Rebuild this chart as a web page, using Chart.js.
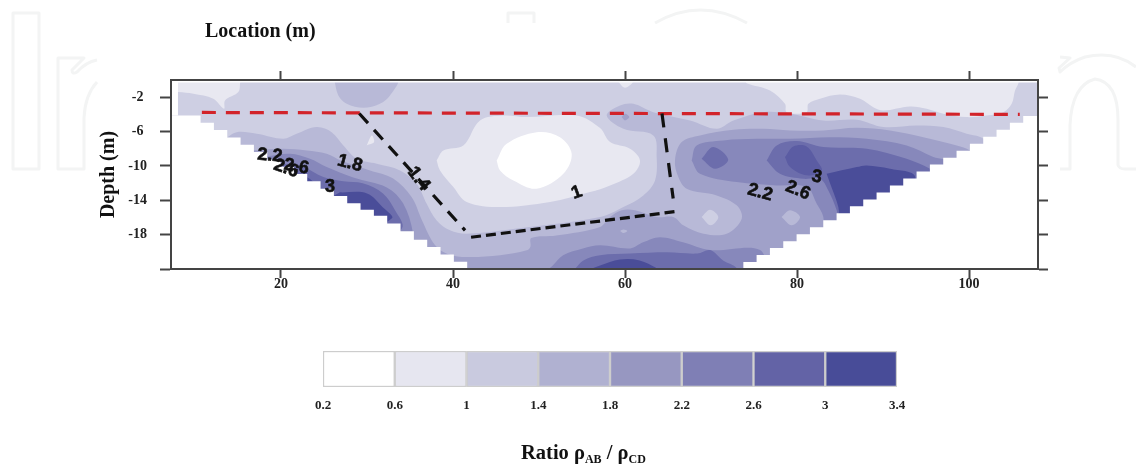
<!DOCTYPE html>
<html><head><meta charset="utf-8">
<style>
html,body{margin:0;padding:0;background:#fff;width:1136px;height:465px;overflow:hidden}
canvas{position:absolute;left:0;filter:blur(0.55px)}
.t{position:absolute;font-family:"Liberation Serif",serif;font-weight:bold;color:#111;white-space:nowrap;filter:blur(0.3px)}
sub{font-size:12px;vertical-align:baseline;position:relative;top:4px}
#wm{position:absolute;left:0;top:0}
</style>
<script src="https://cdn.jsdelivr.net/npm/chart.js@4"></script>
</head><body>
<svg id="wm" width="1136" height="465" fill="none" stroke="#f3f4f4" stroke-width="3" stroke-linejoin="round">
<path d="M13 13H39V169H13Z"/>
<path d="M97 60Q86 62 77 72Q72 75 72 70L84 58H58V169H84V118Q85 95 97 82"/>
<path d="M508 23V13H534V23"/>
<path d="M655 23Q700 -3 747 23"/>
<path d="M1136 67Q1115 50 1085 57Q1070 62 1060 72L1059 68L1070 58L1060 57M1060 169H1070V125Q1072 85 1095 79Q1118 82 1118 120V165Q1119 169 1125 169H1136"/>
</svg>
<canvas id="main" width="1136" height="465" style="top:0"></canvas>
<canvas id="bar" width="1136" height="85" style="top:340px"></canvas>
<div class="t" style="left:205px;top:19px;font-size:20px">Location (m)</div>
<div class="t" style="left:521px;top:441px;font-size:20.5px">Ratio ρ<sub>AB</sub> / ρ<sub>CD</sub></div>
<script>
// tick labels
const xTicks=[20,40,60,80,100];
const yTicks=[-2,-6,-10,-14,-18];
const yCorner=-22;
const levels=[0.2,0.6,1,1.4,1.8,2.2,2.6,3,3.4];
const levelColors=['#ffffff','#e6e6f0','#c9cadf','#b0b1d1','#9797c1','#7f7fb5','#6363a6','#484c98'];
const plotColors=['#ffffff','#e8e8f1','#cecfe3','#b8b9d7','#a0a1c9','#8788bb','#6c6dac','#4a4d99'];
const peakColor='#5b5ca3';

// contour regions, [location, depth]
const domain=[[7,1],[109,1],[109,-23],[7,-23]];
const lightLeft=[[7.5,0],[15.24,0],[15.24,-0.37],[15.04,-1.41],[13.49,-2.38],[13.38,-3.35],[12.13,-2.19],[9.81,-1.61],[8.06,-1.41],[7.5,-1.41]];
const lightRight=[[74,0],[74.15,-0.37],[76.86,-1.22],[78.6,-2.77],[78.8,-3.74],[81.12,-3.74],[81.32,-2.77],[82.67,-2.19],[85,-1.7],[87.33,-2.19],[88.87,-3.16],[90.04,-3.55],[93.14,-3.08],[95.08,-3.35],[97,-3.93],[99.73,-4.32],[102.05,-4.13],[104,-3.74],[104.96,-2.77],[105.35,-1.22],[105.74,-0.37],[105.74,0]];
const lightNotch=[[59.2,-0.2],[60.9,-0.2],[60,-0.9]];
const band14=[[13.49,-6.84],[14.85,-6.07],[17.17,-6.26],[20.27,-6.84],[21.82,-6.26],[24.15,-5.48],[25.89,-6.07],[27.25,-7.62],[28.8,-9.17],[31.13,-9.75],[33.84,-10.52],[35.78,-12.07],[36.94,-14.4],[38.1,-16.34],[39.65,-17.5],[41.59,-17.89],[47.41,-17.3],[57.1,-15.95],[59.81,-14.79],[62.13,-13.43],[63.49,-11.69],[63.68,-8.97],[63.29,-6.45],[59.81,-5.68],[57.87,-4.13],[59.42,-2.96],[60.97,-2.77],[63.29,-3.74],[67.56,-4.71],[70.66,-5.68],[72.6,-4.71],[76.09,-3.74],[79.19,-3.93],[83.06,-4.71],[86.94,-4.63],[90.04,-5.48],[93.91,-5.29],[97.02,-5.48],[99.73,-6.26],[101.67,-6.84],[108,-12],[85,-22],[40,-22],[13.49,-12]];
const circle14=[[26.2,0],[33.5,0],[32.68,-1.8],[31.5,-2.77],[29.58,-3.24],[27.64,-2.77],[26.67,-1.8]];
const centerLight=[[38.1,-9.36],[38.88,-8.2],[41.2,-7.62],[43.14,-4.71],[45.86,-4.13],[48.57,-4.32],[54.38,-4.13],[57.1,-5.6],[58.26,-7.23],[60.58,-8],[61.74,-9.36],[60.97,-10.91],[58.26,-12.27],[55.93,-13.04],[51.28,-14.2],[45.47,-14.79],[41.59,-14.2],[40.04,-12.46],[38.49,-10.52]];
const centerWhite=[[45.08,-9.36],[46.24,-7.42],[49.73,-6.07],[52.44,-6.65],[53.8,-8.59],[52.83,-10.91],[49.73,-12.65],[47.02,-11.69],[45.47,-10.52]];
const lightSpot=[[29.96,-7.62],[30.55,-6.45],[30.82,-7.23]];
const band18=[[16.4,-8.2],[20.27,-8],[22.99,-8.2],[25.31,-8.59],[27,-9.4],[30.35,-10.52],[33,-11.45],[35.2,-13.66],[36.4,-16.34],[37.9,-19.2],[39.5,-20.3],[41.59,-20.6],[45.47,-20.4],[48.57,-19.83],[49,-19.4],[49.1,-18.4],[52,-18.1],[57.1,-17.1],[58.26,-15.95],[59.61,-15.17],[61.16,-15.17],[63.68,-15.95],[65.62,-15.95],[66.78,-16.92],[69.11,-17.89],[71.82,-17.89],[73.57,-16.14],[72.98,-14.59],[70.66,-13.43],[67.17,-12.65],[66.2,-11.3],[65.81,-9.36],[66.59,-7.23],[68.72,-6.45],[72.6,-5.79],[76.09,-5.68],[79.19,-5.87],[83.06,-5.87],[86.94,-5.56],[90.81,-5.87],[94.69,-6.65],[98.57,-7.62],[100.1,-8.2],[105,-12],[85,-22],[40,-22],[16.4,-12]];
const blob10=[[68.91,-15.95],[69.88,-15.1],[70.85,-15.95],[69.96,-16.92]];
const blob14=[[78.2,-15.95],[79.19,-15.17],[80.35,-15.95],[79.38,-16.92]];
const dot14=[[59.42,-17.58],[59.81,-17.4],[60.27,-17.58],[59.81,-17.81]];
const dot18=[[59.61,-4.32],[60,-3.93],[60.5,-4.32],[60,-4.71]];
const left22=[[17.95,-8.97],[21.05,-8.59],[23.37,-9.17],[25.31,-10.14],[28.4,-11.34],[32.3,-12.5],[34.2,-14.36],[35.35,-17.85],[35,-19],[33,-22],[17.95,-12]];
const bottom22=[[50.9,-22.2],[51.6,-21.6],[52.8,-20.4],[55.1,-19.6],[57.1,-19.24],[60.6,-19.6],[62.1,-18.9],[64.07,-18.3],[66.74,-18.9],[69.88,-19.8],[75.7,-19.8],[76,-23],[50.9,-23]];
const right22=[[67.75,-9.36],[68.33,-7.62],[71.43,-7.03],[75.31,-6.84],[79.19,-6.84],[83.84,-6.65],[88.1,-6.84],[92.75,-7.62],[95.85,-8.97],[97.79,-9.75],[96,-16],[83,-21],[83.06,-18.3],[83.06,-15.95],[82.29,-14.4],[81.12,-12.46],[77.64,-12.27],[72.98,-11.88],[68.72,-10.91]];
const blob26=[[68.91,-9.17],[70.27,-7.81],[72,-9.28],[70.47,-10.33]];
const right26=[[76.47,-9.36],[77.64,-7.62],[79.96,-7.11],[83.06,-7.81],[88.1,-8],[92.75,-9.17],[95.46,-10.33],[97,-11.3],[92,-16],[85,-19],[85,-17.1],[84.61,-15.17],[83.64,-12.85],[82.67,-11.5],[80.74,-11.5],[78.02,-10.91]];
const left26=[[20.27,-9.75],[22.6,-10.14],[24.93,-11.3],[27.25,-11.8],[29.5,-12.03],[31.86,-13.2],[33.26,-15.17],[34.07,-17.27],[30,-20],[20.27,-13]];
const bottom26=[[54,-22.2],[55.16,-21],[57.1,-20.4],[60.6,-20.2],[64.9,-20.06],[68.4,-20.2],[69.9,-19.8],[71.4,-21],[73,-21.9],[73,-23],[54,-23]];
const left30a=[[26.86,-13.08],[30,-13.2],[31.86,-14.83],[32.9,-16.1],[28,-18],[24,-15]];
const left30b=[[21.05,-10.72],[22.99,-11.3],[23.76,-12.07],[20,-13]];
const bottom30=[[55.5,-22.2],[57.1,-21.6],[59.4,-20.9],[61.7,-21],[63.7,-21.9],[64.07,-22.2],[60,-23]];
const peak30=[[78.6,-8.97],[79.57,-7.73],[81.12,-7.73],[82.29,-9.36],[82.87,-10.52],[81.12,-11.1],[79.19,-10.14]];
const right30=[[83.45,-10.91],[86.94,-10.14],[88.1,-9.94],[90.81,-10.33],[93.72,-11.22],[92,-15],[86,-18],[85,-16.53],[84.81,-14.8],[84,-12.46]];

// white area outside the measured section: staircase corners
const stairLeft=[[9.1,-4.13],[10.65,-4.98],[12.2,-5.83],[13.75,-6.69],[15.3,-7.54],[16.85,-8.39],[18.4,-9.24],[19.95,-10.1],[21.5,-10.95],[23.05,-11.8],[24.6,-12.65],[26.15,-13.5],[27.7,-14.35],[29.25,-15.1],[30.8,-15.8],[32.35,-16.7],[33.9,-17.6],[35.45,-18.6],[37,-19.45],[38.55,-20.3],[40.1,-21.15],[41.65,-22]];
const stairRight=[[73.76,-22],[75.3,-21.19],[76.85,-20.38],[78.4,-19.57],[79.95,-18.76],[81.5,-17.95],[83.05,-17.14],[84.6,-16.33],[86.15,-15.52],[87.7,-14.71],[89.25,-13.9],[90.8,-13.09],[92.35,-12.28],[93.9,-11.47],[95.45,-10.66],[97,-9.85],[98.55,-9.04],[100.1,-8.23],[101.65,-7.42],[103.2,-6.61],[104.75,-5.8],[106.3,-4.99],[107.9,-4.2]];
const topStrip=[[7,1],[109,1],[109,-0.3],[7,-0.3]];
const leftStrip=[[7,1],[8.02,1],[8.02,-4.13],[7,-4.13]];

// interpreted lines
const redLine=[[10.8,-3.78],[105.9,-4.0]];
const blackA=[[29.1,-3.9],[41.4,-17.5]];
const blackB=[[42.1,-18.3],[66,-15.3]];
const blackC=[[64.3,-3.9],[65.6,-13.8]];

// contour labels: text, location, depth, rotation
const contourLabels=[['2.2',18.7,-8.8,5],['2.6',21.8,-10.1,10],['2.6',20.6,-10.3,20],['1.8',28,-9.7,15],['3',25.7,-12.5,0],['1.4',36,-11.5,52],['1',54.4,-13.1,-20],['2.2',75.7,-13.1,15],['2.6',80.1,-12.85,22],['3',82.3,-11.3,10]];

const steps=(a,first)=>{const o=[];a.forEach((p,i)=>{if(i){o.push(first?[p[0],a[i-1][1]]:[a[i-1][0],p[1]]);}o.push(p);});return o;};
const maskLeft=[[7,-4.13],...steps(stairLeft,true),[41.65,-23],[7,-23]];
const maskRight=[...steps(stairRight,false),[109,-4.2],[109,-23],[73.76,-23]];

const C=plotColors;
const paint=[[domain,C[2],0],[lightLeft,C[1]],[lightRight,C[1]],[lightNotch,C[1]],[band14,C[3]],[circle14,C[3]],[centerLight,C[1]],[centerWhite,C[0]],[lightSpot,C[1]],[band18,C[4]],[blob10,C[2]],[blob14,C[3]],[dot14,C[3]],[dot18,C[4]],[left22,C[5]],[bottom22,C[5]],[right22,C[5]],[blob26,C[6]],[right26,C[6]],[left26,C[6]],[bottom26,C[6]],[left30a,C[7]],[left30b,C[7]],[bottom30,C[7]],[peak30,peakColor],[right30,C[7]],[maskLeft,'#fff',0],[maskRight,'#fff',0],[topStrip,'#fff',0],[leftStrip,'#fff',0]];
const lines=[[redLine,'#d2232a',[14,10],3.2],[blackA,'#111',[13,9],3.2],[blackB,'#111',[10,5],3.2],[blackC,'#111',[14,11],3.2]];
const pts=a=>a.map(p=>({x:p[0],y:p[1]}));
const ds=[];
const total=paint.length+lines.length;
paint.forEach((p,i)=>ds.push({data:pts(p[0].concat([p[0][0]])),backgroundColor:p[1],borderWidth:0,pointRadius:0,showLine:true,fill:'shape',tension:p[2]===0?0:0.35,order:total-i}));
lines.forEach((l,i)=>ds.push({data:pts(l[0]),borderColor:l[1],borderDash:l[2],borderWidth:l[3],pointRadius:0,showLine:true,fill:false,order:lines.length-i}));

const serif={family:'"Liberation Serif",serif',weight:'bold',size:14};
const axisColor='#444';
const tickScale=(pos,min,max,ticks,show,len,pad,extra)=>Object.assign({type:'linear',position:pos,min,max,
  afterBuildTicks:s=>{s.ticks=ticks.map(v=>({value:v}));},
  border:{display:true,color:axisColor,width:2,z:1},
  grid:{display:true,drawOnChartArea:false,drawTicks:true,tickLength:len,tickColor:axisColor,tickWidth:2},
  ticks:{display:show,autoSkip:false,maxRotation:0,color:'#222',font:serif,padding:pad,callback:v=>v===yCorner?'':String(v)}},extra);

const labelPlugin={id:'contourLabels',afterDatasetsDraw(c){
  const g=c.ctx,sx=c.scales.x,sy=c.scales.y;g.save();
  g.font='bold 18px "Liberation Sans",sans-serif';g.fillStyle='#111';g.strokeStyle='#111';g.lineWidth=0.6;g.textAlign='center';g.textBaseline='middle';
  contourLabels.forEach(([t,x,y,r])=>{g.save();g.translate(sx.getPixelForValue(x),sy.getPixelForValue(y));g.rotate(r*Math.PI/180);g.fillText(t,0,0);g.strokeText(t,0,0);g.restore();});
  g.restore();}};

const yMarks=[...yTicks,yCorner];
const yAxis=tickScale('left',-22,0,yMarks,true,11,13,{afterFit:s=>{s.width=74;},title:{display:true,text:'Depth (m)',color:'#111',font:{family:'"Liberation Serif",serif',weight:'bold',size:20},padding:0}});
yAxis.ticks.crossAlign='center';
new Chart(document.getElementById('main'),{type:'scatter',data:{datasets:ds},plugins:[labelPlugin],options:{
  responsive:false,animation:false,layout:{padding:{left:97,right:0,top:0,bottom:0}},
  plugins:{legend:{display:false},tooltip:{enabled:false}},
  scales:{
    x:tickScale('bottom',7.21,108.02,xTicks,true,9,-2,{afterFit:s=>{s.height=196;}}),
    x2:tickScale('top',7.21,108.02,xTicks,false,9,0,{afterFit:s=>{s.height=80;}}),
    y:yAxis,
    y2:tickScale('right',-22,0,yMarks,false,10,0,{afterFit:s=>{s.width=98;}})
  }}});

const barDs=levelColors.map((c,i)=>({data:[[levels[i],levels[i+1]]],backgroundColor:c,borderColor:'#cdcdcd',borderWidth:1.5,borderSkipped:false,barPercentage:1,categoryPercentage:1}));
new Chart(document.getElementById('bar'),{type:'bar',data:{labels:['Ratio'],datasets:barDs},options:{
  indexAxis:'y',responsive:false,animation:false,layout:{padding:{left:323,right:239,top:11,bottom:0}},
  plugins:{legend:{display:false},tooltip:{enabled:false}},
  scales:{
    y:{display:false,stacked:true},
    x:{type:'linear',min:0.2,max:3.4,position:'bottom',stacked:false,
      afterBuildTicks:s=>{s.ticks=levels.map(v=>({value:v}));},afterFit:s=>{s.height=38;},
      border:{display:false},grid:{display:false},
      ticks:{autoSkip:false,maxRotation:0,color:'#222',font:{family:'"Liberation Serif",serif',weight:'bold',size:13},padding:3,callback:v=>String(v)}}
  }}});
</script>
</body></html>
